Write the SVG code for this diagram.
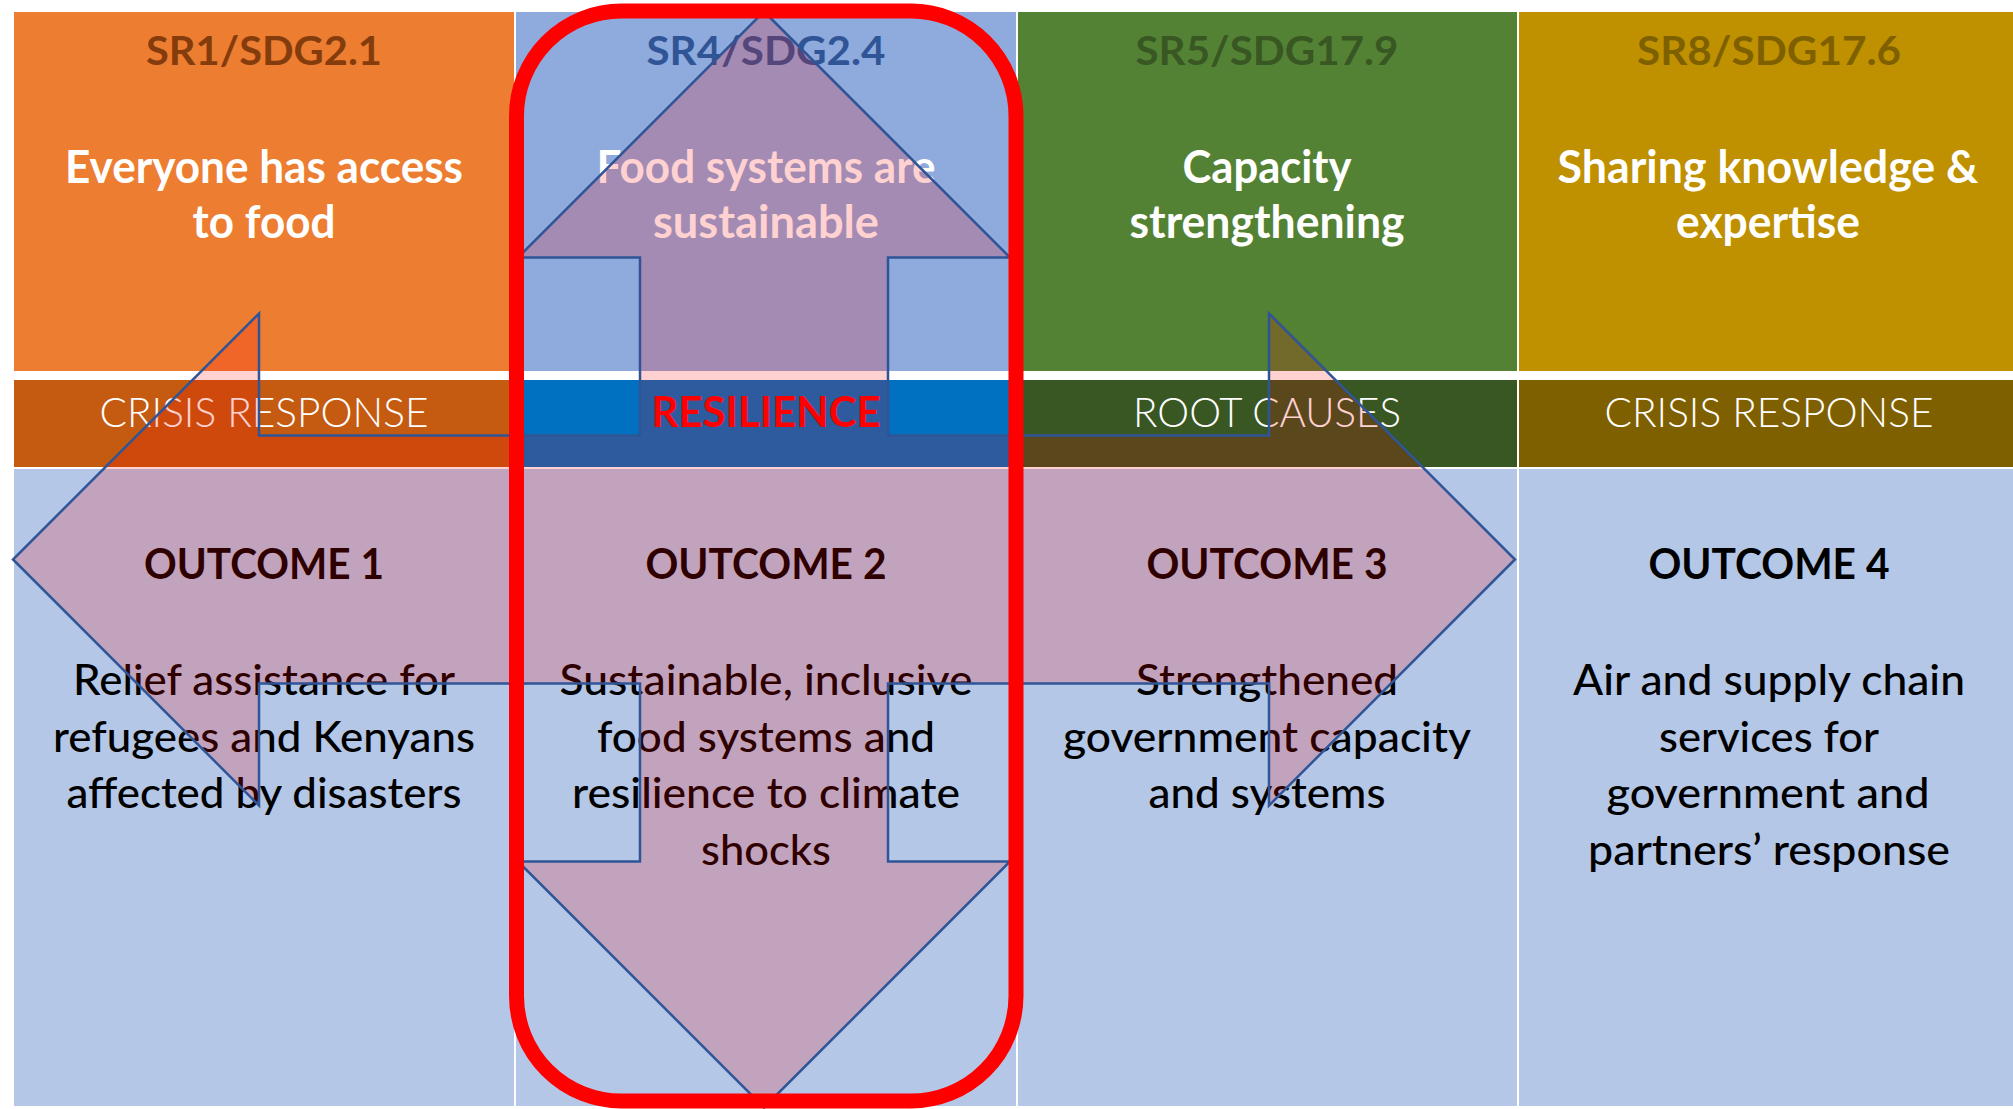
<svg xmlns="http://www.w3.org/2000/svg" width="2013" height="1109" viewBox="0 0 2013 1109">
<style>
text{font-family:Lato,"Liberation Sans",sans-serif;text-anchor:middle}
.hd{font-size:40px;font-weight:700}
.tp{font-size:45px;font-weight:700;fill:#fff}
.bd{font-size:42px;font-weight:300;fill:#fff}
.rs{font-size:42px;font-weight:700;fill:#FF0000}
.oc{font-size:42px;font-weight:700;fill:#000}
.tx{font-size:42px;font-weight:500;fill:#000}
.low{fill:#B4C7E7}
</style>
<rect width="2013" height="1109" fill="#fff"/>
<g id="col1">
<rect x="14" y="12" width="500" height="359" fill="#ED7D31"/>
<rect x="14" y="380" width="500" height="87" fill="#C55A11"/>
<rect class="low" x="14" y="469" width="500" height="637"/>
<text class="hd" x="264" y="65" fill="#843C0C" textLength="236" lengthAdjust="spacingAndGlyphs">SR1/SDG2.1</text>
<text class="tp" x="264" y="183" textLength="398" lengthAdjust="spacingAndGlyphs">Everyone has access</text>
<text class="tp" x="264" y="238" textLength="143" lengthAdjust="spacingAndGlyphs">to food</text>
<text class="bd" x="264" y="427" textLength="329" lengthAdjust="spacingAndGlyphs">CRISIS RESPONSE</text>
<text class="oc" x="264" y="579" textLength="240" lengthAdjust="spacingAndGlyphs">OUTCOME 1</text>
<text class="tx" x="264" y="695" textLength="382" lengthAdjust="spacingAndGlyphs">Relief assistance for</text>
<text class="tx" x="264" y="752" textLength="422" lengthAdjust="spacingAndGlyphs">refugees and Kenyans</text>
<text class="tx" x="264" y="808" textLength="395" lengthAdjust="spacingAndGlyphs">affected by disasters</text>
</g>
<g id="col2">
<rect x="516" y="12" width="500" height="359" fill="#8FAADC"/>
<rect x="516" y="380" width="500" height="87" fill="#0070C0"/>
<rect class="low" x="516" y="469" width="500" height="637"/>
<text class="hd" x="766" y="65" fill="#2F5597" textLength="239" lengthAdjust="spacingAndGlyphs">SR4/SDG2.4</text>
<text class="tp" x="766" y="183" textLength="339" lengthAdjust="spacingAndGlyphs">Food systems are</text>
<text class="tp" x="766" y="238" textLength="226" lengthAdjust="spacingAndGlyphs">sustainable</text>
<text class="rs" x="766" y="427" textLength="229" lengthAdjust="spacingAndGlyphs">RESILIENCE</text>
<text class="oc" x="766" y="579" textLength="241" lengthAdjust="spacingAndGlyphs">OUTCOME 2</text>
<text class="tx" x="766" y="695" textLength="413" lengthAdjust="spacingAndGlyphs">Sustainable, inclusive</text>
<text class="tx" x="766" y="752" textLength="338" lengthAdjust="spacingAndGlyphs">food systems and</text>
<text class="tx" x="766" y="808" textLength="388" lengthAdjust="spacingAndGlyphs">resilience to climate</text>
<text class="tx" x="766" y="865" textLength="130" lengthAdjust="spacingAndGlyphs">shocks</text>
</g>
<g id="col3">
<rect x="1018" y="12" width="499" height="359" fill="#548235"/>
<rect x="1018" y="380" width="499" height="87" fill="#385723"/>
<rect class="low" x="1018" y="469" width="499" height="637"/>
<text class="hd" x="1267" y="65" fill="#385723" textLength="263" lengthAdjust="spacingAndGlyphs">SR5/SDG17.9</text>
<text class="tp" x="1267" y="183" textLength="169" lengthAdjust="spacingAndGlyphs">Capacity</text>
<text class="tp" x="1267" y="238" textLength="275" lengthAdjust="spacingAndGlyphs">strengthening</text>
<text class="bd" x="1267" y="427" textLength="268" lengthAdjust="spacingAndGlyphs">ROOT CAUSES</text>
<text class="oc" x="1267" y="579" textLength="241" lengthAdjust="spacingAndGlyphs">OUTCOME 3</text>
<text class="tx" x="1267" y="695" textLength="262" lengthAdjust="spacingAndGlyphs">Strengthened</text>
<text class="tx" x="1267" y="752" textLength="408" lengthAdjust="spacingAndGlyphs">government capacity</text>
<text class="tx" x="1267" y="808" textLength="237" lengthAdjust="spacingAndGlyphs">and systems</text>
</g>
<g id="col4">
<rect x="1519" y="12" width="494" height="359" fill="#BF9000"/>
<rect x="1519" y="380" width="494" height="87" fill="#7F6000"/>
<rect class="low" x="1519" y="469" width="494" height="637"/>
<text class="hd" x="1769" y="65" fill="#7F6000" textLength="264" lengthAdjust="spacingAndGlyphs">SR8/SDG17.6</text>
<text class="tp" x="1768" y="183" textLength="421" lengthAdjust="spacingAndGlyphs">Sharing knowledge &amp;</text>
<text class="tp" x="1768" y="238" textLength="184" lengthAdjust="spacingAndGlyphs">expertise</text>
<text class="bd" x="1769" y="427" textLength="329" lengthAdjust="spacingAndGlyphs">CRISIS RESPONSE</text>
<text class="oc" x="1769" y="579" textLength="241" lengthAdjust="spacingAndGlyphs">OUTCOME 4</text>
<text class="tx" x="1769" y="695" textLength="392" lengthAdjust="spacingAndGlyphs">Air and supply chain</text>
<text class="tx" x="1769" y="752" textLength="220" lengthAdjust="spacingAndGlyphs">services for</text>
<text class="tx" x="1768" y="808" textLength="323" lengthAdjust="spacingAndGlyphs">government and</text>
<text class="tx" x="1769" y="865" textLength="362" lengthAdjust="spacingAndGlyphs">partners’ response</text>
</g>
<g id="arrows">
<polygon points="764,11.5 1010,257.5 888,257.5 888,435.5 1269,435.5 1269,313.5 1515,559.5 1269,805.5 1269,683.5 888,683.5 888,861.5 1010,861.5 764,1107.5 518,861.5 640,861.5 640,683.5 259,683.5 259,805.5 13,559.5 259,313.5 259,435.5 640,435.5 640,257.5 518,257.5" fill="#FF0000" fill-opacity="0.18" stroke="#2F5597" stroke-width="2.5" stroke-linejoin="miter"/>
</g>
<g id="highlight">
<rect x="516.5" y="11" width="499.5" height="1090" rx="105" ry="105" fill="none" stroke="#FF0000" stroke-width="15"/>
</g>
</svg>
